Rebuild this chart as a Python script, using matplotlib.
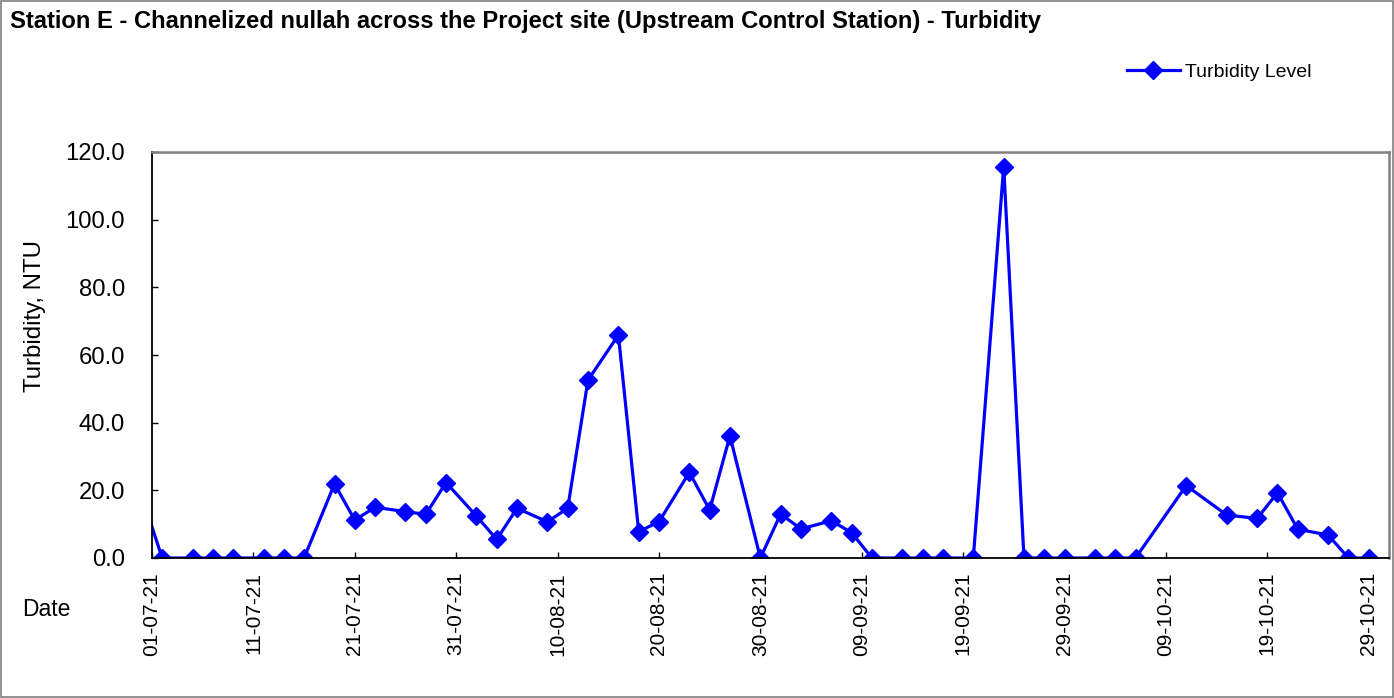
import matplotlib
matplotlib.use('Agg')
import matplotlib.pyplot as plt
import matplotlib.dates as mdates
from matplotlib.patches import Rectangle
import pandas as pd

plt.rcParams['font.family'] = ['Liberation Sans', 'DejaVu Sans']

# sampling dates (dd-mm-yy) and turbidity readings (NTU)
dates = [
    "30-06-21", "02-07-21", "05-07-21", "07-07-21", "09-07-21", "12-07-21",
    "14-07-21", "16-07-21", "19-07-21", "21-07-21", "23-07-21", "26-07-21",
    "28-07-21", "30-07-21", "02-08-21", "04-08-21", "06-08-21", "09-08-21",
    "11-08-21", "13-08-21", "16-08-21", "18-08-21", "20-08-21", "23-08-21",
    "25-08-21", "27-08-21", "30-08-21", "01-09-21", "03-09-21", "06-09-21",
    "08-09-21", "10-09-21", "13-09-21", "15-09-21", "17-09-21", "20-09-21",
    "23-09-21", "25-09-21", "27-09-21", "29-09-21", "02-10-21", "04-10-21",
    "06-10-21", "11-10-21", "15-10-21", "18-10-21", "20-10-21", "22-10-21",
    "25-10-21", "27-10-21", "29-10-21",
]
turbidity = [
    18.4, 0.0, 0.0, 0.0, 0.0, 0.0,
    0.0, 0.0, 21.9, 11.2, 15.0, 13.7,
    12.9, 22.3, 12.4, 5.5, 14.7, 10.7,
    14.7, 52.6, 65.9, 7.8, 10.7, 25.3,
    14.2, 36.1, 0.0, 13.0, 8.6, 11.0,
    7.5, 0.0, 0.0, 0.0, 0.0, 0.0,
    115.7, 0.0, 0.0, 0.0, 0.0, 0.0,
    0.0, 21.4, 12.7, 11.7, 19.3, 8.5,
    6.8, 0.0, 0.0,
]
x_start, x_end = "01-07-21", "31-10-21"
y_ticks = [0, 20, 40, 60, 80, 100, 120]

x = pd.to_datetime(dates, format="%d-%m-%y")
x0 = pd.to_datetime(x_start, format="%d-%m-%y")
x1 = pd.to_datetime(x_end, format="%d-%m-%y")
x_ticks = pd.date_range(x0, x1, freq="10D")

fig = plt.figure(figsize=(13.94, 6.98), dpi=100)
fig.patches.append(Rectangle((0.001, 0.001), 0.998, 0.997, transform=fig.transFigure,
                             fill=False, edgecolor='#7f7f7f', linewidth=1.2))

ax = fig.add_axes([152 / 1394, 1 - 558 / 698, (1389 - 152) / 1394, (558 - 152) / 698])
ax.plot(x, turbidity, color='#0000FF', linewidth=2.3, marker='D', markersize=9.5,
        label='Turbidity Level')

ax.set_xlim(x0, x1)
ax.set_ylim(0, 120)
ax.set_yticks(y_ticks)
ax.yaxis.set_major_formatter(matplotlib.ticker.FormatStrFormatter('%.1f'))
ax.set_xticks(x_ticks)
ax.xaxis.set_major_formatter(mdates.DateFormatter('%d-%m-%y'))
ax.tick_params(axis='y', direction='in', length=4, width=1, labelsize=17.2, pad=19.5)
ax.tick_params(axis='x', direction='in', length=4, width=1, labelsize=15,
               labelrotation=90, pad=10)

for s in ['left', 'bottom']:
    ax.spines[s].set_color('black')
    ax.spines[s].set_linewidth(1.3)
for s in ['top', 'right']:
    ax.spines[s].set_color('#808080')
    ax.spines[s].set_linewidth(1.8)

ax.set_ylabel('Turbidity, NTU', fontsize=17.3)
ax.yaxis.set_label_coords(-0.0857, 0.596)

fig.text(10 / 1394, 1 - 28 / 698, 'Station E - Channelized nullah across the Project site '
         '(Upstream Control Station) - Turbidity', fontsize=17.1, fontweight='bold',
         ha='left', va='baseline')
fig.text(22 / 1394, 1 - 610 / 698, 'Date', fontsize=16.5, ha='left', va='center')

fig.legend(loc='center left', bbox_to_anchor=(1127 / 1394, 1 - 72 / 698),
           frameon=False, fontsize=14, handlelength=2.7, handletextpad=0.3,
           borderpad=0, borderaxespad=0)

fig.savefig('out.png', dpi=100)
